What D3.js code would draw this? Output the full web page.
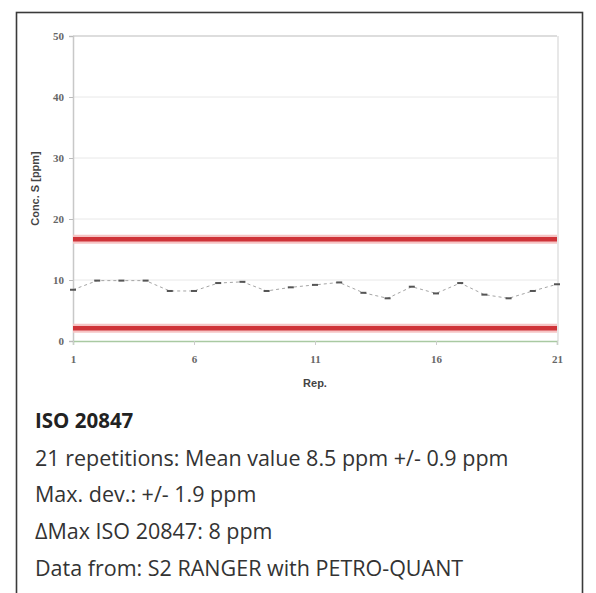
<!DOCTYPE html>
<html>
<head>
<meta charset="utf-8">
<script src="https://cdn.jsdelivr.net/npm/d3@7/dist/d3.min.js"></script>
<style>
  html, body { margin: 0; padding: 0; background: #fff; }
  svg { display: block; }
</style>
</head>
<body>
<svg id="chart" width="596" height="593"></svg>
<script>
// ---- data ----
const repetitions = d3.range(1, 22);
const concValues = [8.4, 9.9, 9.9, 9.9, 8.2, 8.2, 9.5, 9.7, 8.2, 8.8, 9.2,
                    9.6, 7.9, 7.0, 8.9, 7.8, 9.5, 7.6, 7.0, 8.2, 9.3];
const limitValues = [16.7, 2.1];
const yTicks = [0, 10, 20, 30, 40, 50];
const xTicks = [1, 6, 11, 16, 21];
const yTitle = "Conc. S [ppm]";
const xTitle = "Rep.";
const infoTitle = "ISO 20847";
const infoLines = [
  "21 repetitions: Mean value 8.5 ppm +/- 0.9 ppm",
  "Max. dev.: +/- 1.9 ppm",
  "\u0394Max ISO 20847: 8 ppm",
  "Data from: S2 RANGER with PETRO-QUANT"
];

const svg = d3.select("#chart");

// outer frame
svg.append("rect")
  .attr("x", 16.5).attr("y", 12.5)
  .attr("width", 566).attr("height", 600)
  .attr("fill", "#fff").attr("stroke", "#3a3a3a").attr("stroke-width", 1.6);

const plot = { left: 73, right: 557, top: 36, bottom: 341 };

const x = d3.scaleLinear().domain([1, 21]).range([plot.left, plot.right]);
const y = d3.scaleLinear().domain([0, 50]).range([plot.bottom, plot.top]);

// gridlines
svg.append("g").selectAll("line").data(yTicks.filter(d => d > 0)).join("line")
  .attr("x1", plot.left).attr("x2", plot.right)
  .attr("y1", d => y(d)).attr("y2", d => y(d))
  .attr("stroke", d => d === 50 ? "#d2d2d2" : "#e8e8e8")
  .attr("stroke-width", d => d === 50 ? 1.5 : 1);

// right border of plot area
svg.append("line")
  .attr("x1", plot.right + 1).attr("x2", plot.right + 1)
  .attr("y1", plot.top).attr("y2", plot.bottom)
  .attr("stroke", "#e0e0e0").attr("stroke-width", 1.5);

// y axis
const yAxis = d3.axisLeft(y).tickValues(yTicks).tickSize(4).tickPadding(5);
const gy = svg.append("g").attr("transform", `translate(${plot.left},0)`).call(yAxis);
gy.select(".domain").attr("stroke", "#c8c8c8").attr("stroke-width", 1.5);
gy.selectAll(".tick line").attr("stroke", "#bbb");
gy.selectAll(".tick text")
  .attr("font-family", "Liberation Serif, serif").attr("font-size", 11)
  .attr("font-weight", "bold").attr("fill", "#666");

// x axis
const xAxis = d3.axisBottom(x).tickValues(xTicks).tickSize(4).tickPadding(10);
const gx = svg.append("g").attr("transform", `translate(0,${plot.bottom})`).call(xAxis);
gx.select(".domain").attr("stroke", "#a9c9a2").attr("stroke-width", 1.5);
gx.selectAll(".tick line").attr("stroke", "#ccc");
gx.selectAll(".tick text")
  .attr("font-family", "Liberation Serif, serif").attr("font-size", 11)
  .attr("font-weight", "bold").attr("fill", "#666");

// limit lines (halo + main)
svg.append("g").selectAll("line").data(limitValues).join("line")
  .attr("x1", plot.left).attr("x2", plot.right)
  .attr("y1", d => y(d)).attr("y2", d => y(d))
  .attr("stroke", "#f6c4c4").attr("stroke-width", 9);
svg.append("g").selectAll("line").data(limitValues).join("line")
  .attr("x1", plot.left).attr("x2", plot.right)
  .attr("y1", d => y(d)).attr("y2", d => y(d))
  .attr("stroke", "#cf3338").attr("stroke-width", 4.5);

// data line
const pts = repetitions.map((r, i) => [r, concValues[i]]);
svg.append("path")
  .datum(pts)
  .attr("d", d3.line().x(d => x(d[0])).y(d => y(d[1])))
  .attr("fill", "none").attr("stroke", "#a5a5a5")
  .attr("stroke-width", 1).attr("stroke-dasharray", "3,3");

// markers (short dashes)
svg.append("g").selectAll("rect").data(pts).join("rect")
  .attr("x", d => x(d[0]) - 3).attr("y", d => y(d[1]) - 1)
  .attr("width", 6).attr("height", 2)
  .attr("fill", "#555");

// axis titles
svg.append("text")
  .attr("transform", `translate(39,${(plot.top + plot.bottom) / 2}) rotate(-90)`)
  .attr("text-anchor", "middle")
  .attr("font-family", "Liberation Sans, Arial, sans-serif").attr("font-size", 11)
  .attr("font-weight", "bold").attr("fill", "#444")
  .text(yTitle);
svg.append("text")
  .attr("x", (plot.left + plot.right) / 2).attr("y", 387)
  .attr("text-anchor", "middle")
  .attr("font-family", "Liberation Sans, Arial, sans-serif").attr("font-size", 11)
  .attr("font-weight", "bold").attr("fill", "#444")
  .text(xTitle);

// info text
svg.append("text")
  .attr("x", 35).attr("y", 428)
  .attr("font-family", "Open Sans, sans-serif").attr("font-size", 20.5)
  .attr("font-weight", "bold").attr("fill", "#222")
  .text(infoTitle);
svg.append("g").selectAll("text").data(infoLines).join("text")
  .attr("x", 35).attr("y", (d, i) => 465.5 + i * 36.9)
  .attr("font-family", "Open Sans, sans-serif").attr("font-size", 21.5)
  .attr("fill", "#333")
  .text(d => d);
</script>
</body>
</html>
